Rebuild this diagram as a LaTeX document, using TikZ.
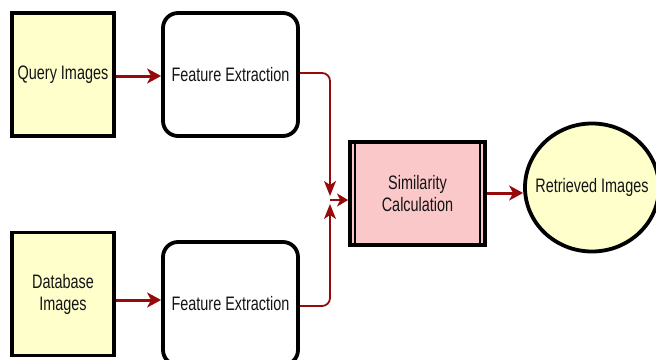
\documentclass[tikz,border=0pt]{standalone}
\usepackage{fontspec}
\setmainfont{Liberation Sans}[FakeStretch=0.74]
\usetikzlibrary{arrows.meta,shapes.geometric,calc}
\definecolor{inyellow}{RGB}{255,255,204}
\definecolor{simpink}{RGB}{250,200,200}
\definecolor{flowred}{RGB}{150,10,10}
\definecolor{inktext}{RGB}{20,20,20}
\tikzset{
  labeltext/.style={text=inktext, align=center, font=\fontsize{19.5}{22}\selectfont, inner sep=0pt},
  base/.style={draw=black, line width=3.8pt, labeltext},
  inputbox/.style={base, fill=inyellow, minimum width=102pt, minimum height=123pt},
  featbox/.style={base, fill=white, rounded corners=15pt, minimum width=135pt, minimum height=123pt},
  procbox/.style={base, fill=simpink, minimum width=135pt, minimum height=103pt},
  resultell/.style={draw=black, line width=3.8pt, ellipse, fill=inyellow, inner sep=0pt,
    minimum width=134pt, minimum height=128pt},
  flow/.style={draw=flowred, line width=3pt, -{Stealth[length=14pt,width=15pt,inset=4pt]}},
  mergeline/.style={draw=flowred, line width=1.8pt, rounded corners=8pt,
    -{Stealth[length=15pt,width=12pt,inset=4pt]}},
}
\begin{document}
\begin{tikzpicture}[x=1pt,y=-1pt]
\useasboundingbox (0,0) rectangle (656,359);
\begin{scope}
\clip (0,0) rectangle (656,359);
% sources
\node[inputbox] (q)  at (63,74.5)  {Query Images};
\node[inputbox] (db) at (63,294)   {Database\\Images};
% feature extraction stages
\node[featbox] (fe1) at (230.5,74.5) {Feature Extraction};
\node[featbox] (fe2) at (230.5,303.5) {Feature Extraction};
% similarity process with double side bars
\node[procbox] (sim) at (417.5,193.5) {Similarity\\Calculation};
\draw[line width=2pt] ($(sim.north west)+(7,0)$) -- ($(sim.south west)+(7,0)$);
\draw[line width=2pt] ($(sim.north east)+(-7,0)$) -- ($(sim.south east)+(-7,0)$);
% result
\node[resultell] (ret) at (592,187.5) {};
\node[labeltext] (rettext) at (ret.center) {Retrieved Images};
% merge points
\coordinate (mtop) at (330,196);
\coordinate (mbot) at (330,204);
\coordinate (min)  at (330,200);
% connectors
\draw[flow] (q.east |- 0,76) -- (fe1.west |- 0,76);
\draw[flow] (db.east |- 0,300) -- (fe2.west |- 0,300);
\draw[mergeline] (fe1.east |- 0,73) -| (mtop);
\draw[mergeline] (fe2.east |- 0,306) -| (mbot);
\draw[flow, line width=2.6pt, -{Stealth[length=11pt,width=13pt,inset=3pt]}] (min) -- (sim.west |- min);
\draw[flow] (sim.east |- 0,193) -- (ret.west |- 0,193);
\end{scope}
\end{tikzpicture}
\end{document}
